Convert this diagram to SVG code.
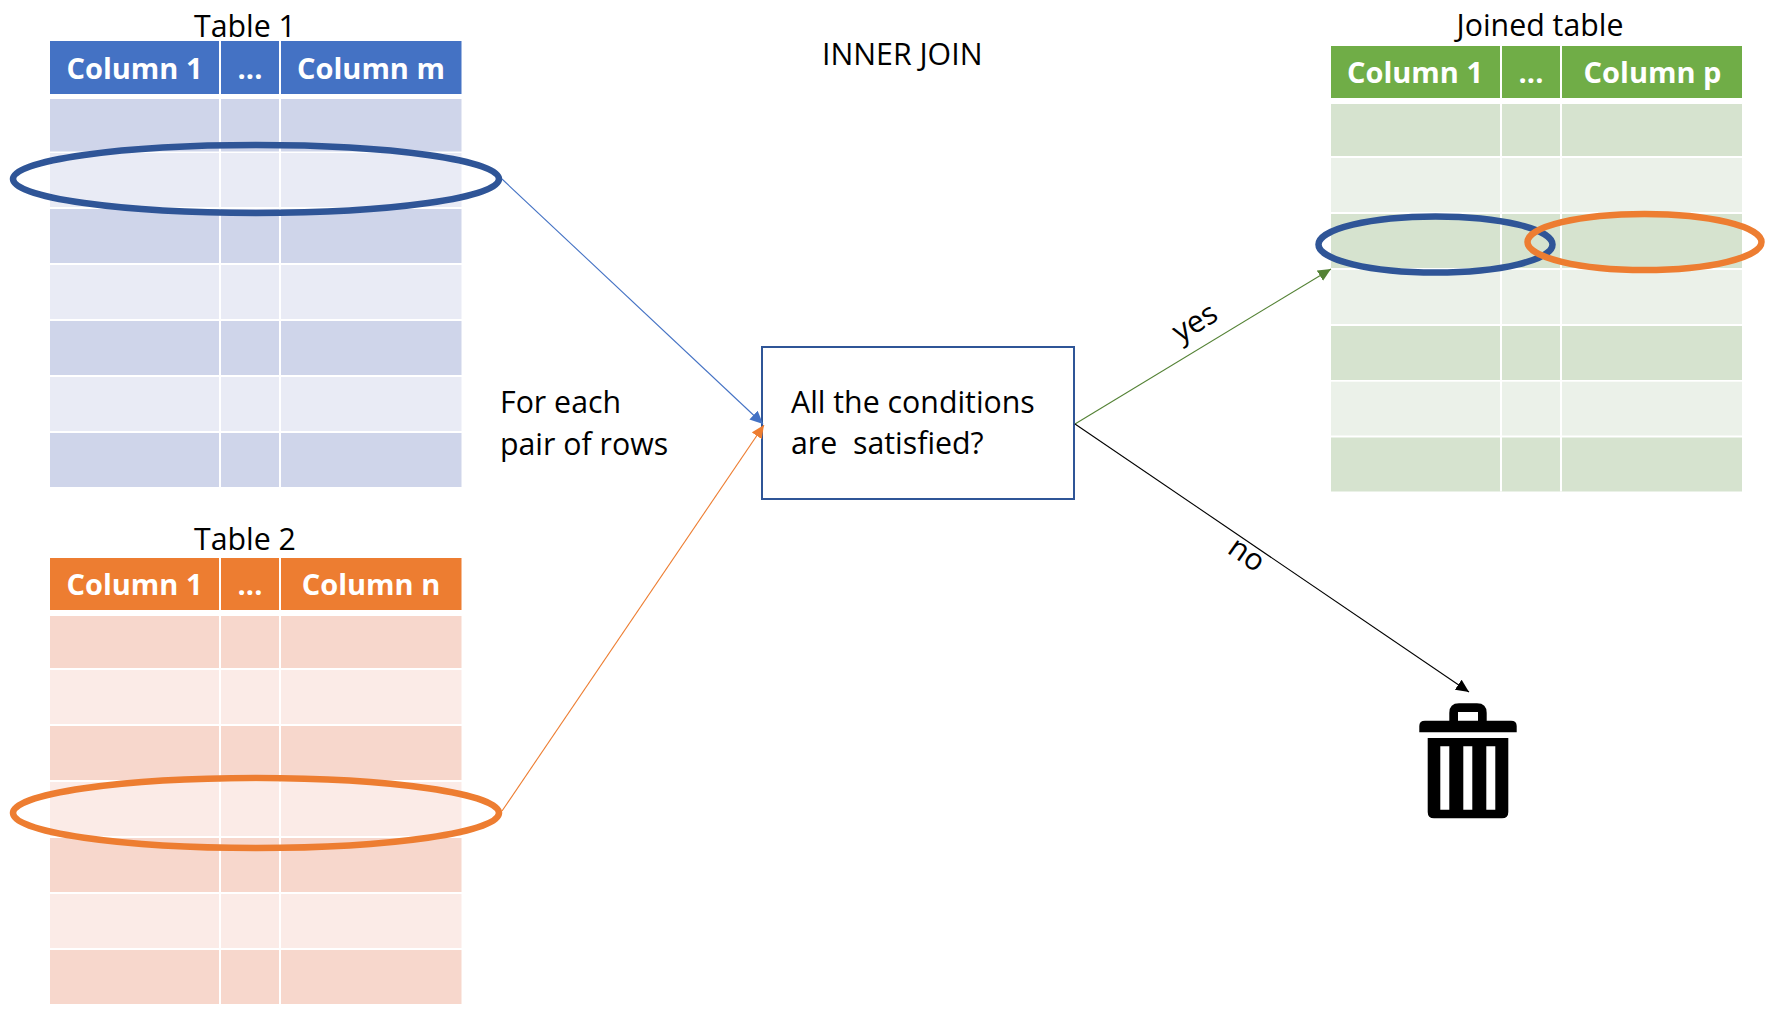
<svg xmlns="http://www.w3.org/2000/svg" width="1772" height="1013" viewBox="0 0 1772 1013">
<style>
text{font-family:"Open Sans","Noto Sans","Liberation Sans",sans-serif;fill:#000;font-size:30.3px}
text.h{font-weight:700;fill:#fff;font-size:29px;text-anchor:middle}
.sep{stroke:#fff;stroke-width:2;fill:none}
.b1{fill:#4472c4}.b2{fill:#cfd5ea}.b3{fill:#e9ebf5}
.o1{fill:#ed7d31}.o2{fill:#f7d7cc}.o3{fill:#fbebe7}
.g1{fill:#70ad47}.g2{fill:#d6e3cf}.g3{fill:#ebf1e9}
.ring{fill:none;stroke-width:6.500}
.rb{stroke:#2f5597}.ro{stroke:#ed7d31}
.c{fill:none;stroke-width:1.100}
</style>
<defs>
<marker id="ab" markerUnits="userSpaceOnUse" markerWidth="14" markerHeight="12" refX="13" refY="6" orient="auto"><path d="M0 0L13 6L0 12Z" fill="#4472c4"/></marker>
<marker id="ao" markerUnits="userSpaceOnUse" markerWidth="14" markerHeight="12" refX="13" refY="6" orient="auto"><path d="M0 0L13 6L0 12Z" fill="#ed7d31"/></marker>
<marker id="ag" markerUnits="userSpaceOnUse" markerWidth="14" markerHeight="12" refX="13" refY="6" orient="auto"><path d="M0 0L13 6L0 12Z" fill="#548235"/></marker>
<marker id="ak" markerUnits="userSpaceOnUse" markerWidth="14" markerHeight="12" refX="13" refY="6" orient="auto"><path d="M0 0L13 6L0 12Z" fill="#000"/></marker>
</defs>
<g id="table1">
<rect class="b1" x="50" y="41" width="411.500" height="53"/>
<rect class="b2" x="50" y="99" width="411.500" height="52.500"/>
<rect class="b3" x="50" y="153" width="411.500" height="54"/>
<rect class="b2" x="50" y="209" width="411.500" height="54"/>
<rect class="b3" x="50" y="265" width="411.500" height="54"/>
<rect class="b2" x="50" y="321" width="411.500" height="54"/>
<rect class="b3" x="50" y="377" width="411.500" height="54"/>
<rect class="b2" x="50" y="433" width="411.500" height="54"/>
<path class="sep" d="M220 41V487M280 41V487"/>
<text x="245" y="37" text-anchor="middle">Table 1</text>
<text class="h" x="134.500" y="79">Column 1</text>
<text class="h" x="250" y="79">...</text>
<text class="h" x="371" y="79">Column m</text>
<ellipse class="ring rb" cx="256" cy="179" rx="243" ry="34"/>
</g>
<g id="table2">
<rect class="o1" x="50" y="558" width="411.500" height="52"/>
<rect class="o2" x="50" y="616" width="411.500" height="52"/>
<rect class="o3" x="50" y="670" width="411.500" height="54"/>
<rect class="o2" x="50" y="726" width="411.500" height="54"/>
<rect class="o3" x="50" y="782" width="411.500" height="54"/>
<rect class="o2" x="50" y="838" width="411.500" height="54"/>
<rect class="o3" x="50" y="894" width="411.500" height="54"/>
<rect class="o2" x="50" y="950" width="411.500" height="54"/>
<path class="sep" d="M220 558V1004M280 558V1004"/>
<text x="245" y="549.500" text-anchor="middle">Table 2</text>
<text class="h" x="134.500" y="595">Column 1</text>
<text class="h" x="250" y="595">...</text>
<text class="h" x="371" y="595">Column n</text>
<ellipse class="ring ro" cx="256" cy="813" rx="243" ry="35"/>
</g>
<g id="joined">
<rect class="g1" x="1331" y="46" width="411" height="52"/>
<rect class="g2" x="1331" y="104" width="411" height="52"/>
<rect class="g3" x="1331" y="158" width="411" height="54"/>
<rect class="g2" x="1331" y="214" width="411" height="54"/>
<rect class="g3" x="1331" y="270" width="411" height="54"/>
<rect class="g2" x="1331" y="326" width="411" height="54"/>
<rect class="g3" x="1331" y="381.700" width="411" height="53.800"/>
<rect class="g2" x="1331" y="437.500" width="411" height="54"/>
<path class="sep" d="M1501 46V491.500M1561 46V491.500"/>
<text x="1540" y="35.500" text-anchor="middle">Joined table</text>
<text class="h" x="1415" y="83">Column 1</text>
<text class="h" x="1531" y="83">...</text>
<text class="h" x="1652.500" y="83">Column p</text>
<ellipse class="ring rb" cx="1435.500" cy="244.500" rx="117" ry="28"/>
<ellipse class="ring ro" cx="1644.500" cy="242" rx="117" ry="28"/>
</g>
<g id="title"><text x="822" y="65">INNER JOIN</text></g>
<g id="note"><text x="500" y="413">For each</text><text x="500" y="455">pair of rows</text></g>
<g id="condition">
<rect x="762" y="347" width="312" height="152" fill="#fff" stroke="#2f5597" stroke-width="2"/>
<text x="791" y="413">All the conditions</text>
<text x="791" y="454" xml:space="preserve">are  satisfied?</text>
</g>
<g id="trash">
<path fill="#000" fill-rule="evenodd" d="M1449.300 720.700V713Q1449.300 703.300 1459 703.300H1477Q1486.700 703.300 1486.700 713V720.700H1511Q1516.700 720.700 1516.700 726V732.300H1419.300V726Q1419.300 720.700 1425 720.700ZM1458 712V720.700H1478V712Z"/>
<path fill="#000" fill-rule="evenodd" d="M1427.700 738H1508.300V812Q1508.300 818.300 1502 818.300H1434Q1427.700 818.300 1427.700 812ZM1440.300 746.300V809.700H1449.300V746.300ZM1463.300 746.300V809.700H1472.300V746.300ZM1486.300 746.300V809.700H1495.300V746.300Z"/>
</g>
<g id="connectors">
<path class="c" stroke="#4472c4" d="M502 179L763 424" marker-end="url(#ab)"/>
<path class="c" stroke="#ed7d31" d="M502 811L764 425" marker-end="url(#ao)"/>
<path class="c" stroke="#548235" d="M1075 424L1331 269" marker-end="url(#ag)"/>
<path class="c" stroke="#000" d="M1075 424L1469 692" marker-end="url(#ak)"/>
<text transform="translate(1180 343) rotate(-31)">yes</text>
<text transform="translate(1226 552) rotate(35)">no</text>
</g>
</svg>
